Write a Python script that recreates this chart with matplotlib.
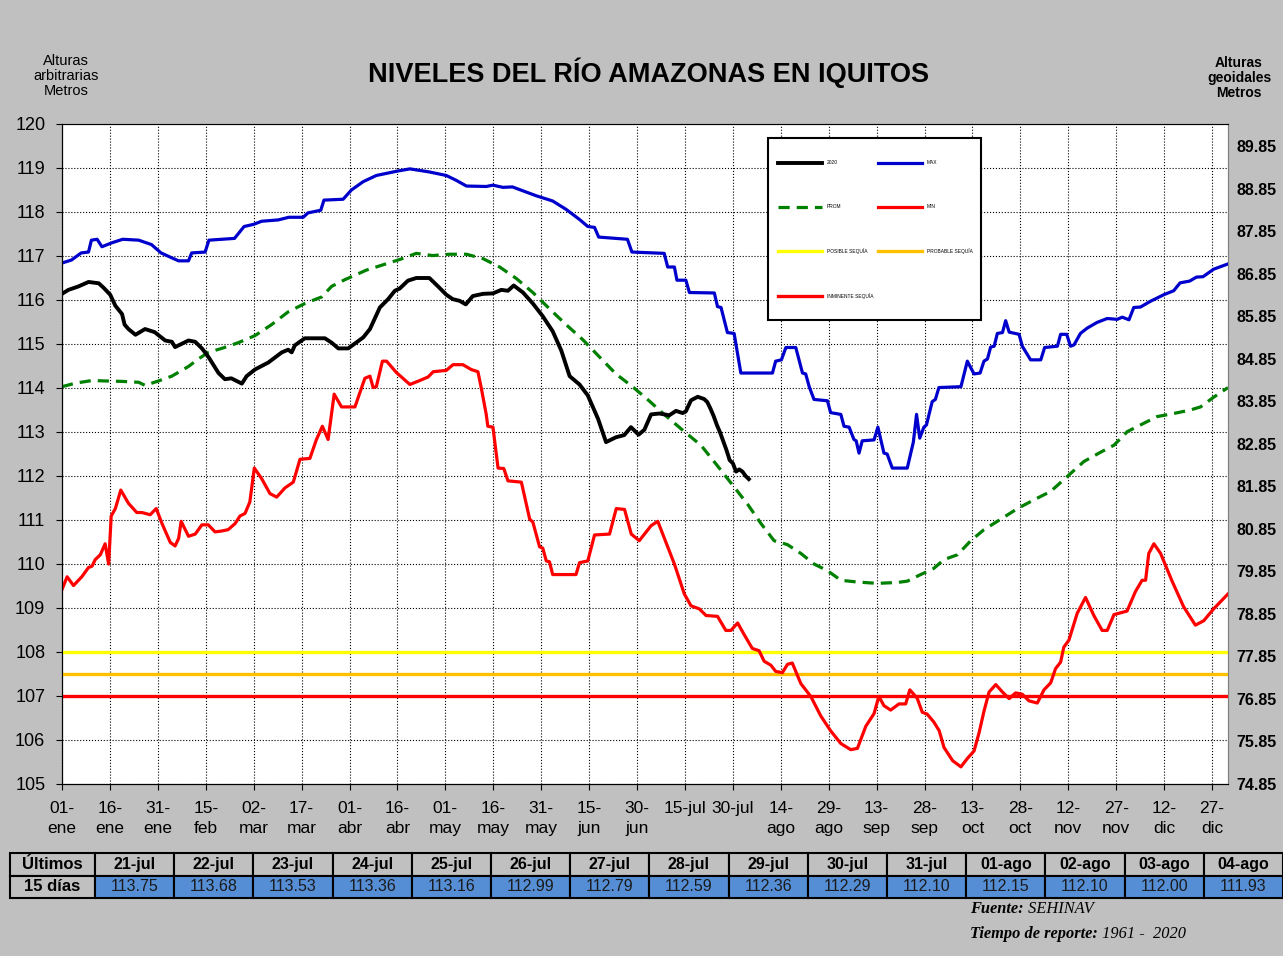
import matplotlib
matplotlib.use("Agg")
import matplotlib.pyplot as plt
from matplotlib.patches import Rectangle
import numpy as np

plt.rcParams['font.family'] = ['Liberation Sans', 'DejaVu Sans']

# ---- data (day of year, level in m) ----
max_days = [1, 4, 7, 9.3, 10.2, 12, 13.5, 16.6, 20, 25, 29, 32, 35, 37.5, 40.6, 41.6, 45.8, 47, 55, 58,
            61, 63.5, 68.7, 72, 76.5, 78, 82, 83, 89, 91.6, 95.3, 99.4, 106, 109.9, 116, 121.3, 124.4, 127.6,
            133.8, 135.9, 139, 142, 145.3, 149.4, 154.6, 158.8, 163, 165.6, 167.7, 169, 178, 179.4, 189.5,
            190.6, 192.7, 193.5, 196.3, 197.4, 205.2, 206.2, 207.3, 209.3, 211.4, 213.5, 223.4, 224.4, 226.2,
            227.6, 230.7, 232.8, 233.8, 234.9, 236.4, 240.6, 241.6, 244.8, 245.8, 247.4, 248.9, 249.6, 250.5,
            251.5, 255.2, 256.4, 258.3, 259.3, 260.9, 265.6, 267.5, 268.5, 269.5, 270.8, 271.6, 273.4, 274.4,
            275.5, 282.4, 284.4, 286.5, 288.4, 289.6, 290.7, 291.7, 292.8, 293.8, 295.4, 296.4, 297.5, 300.6,
            301.6, 304.2, 307.4, 308.6, 312.6, 313.6, 315.5, 316.7, 317.8, 319.8, 321.9, 325, 328.2, 331.3,
            332.9, 335, 336.5, 338.6, 341.7, 345.9, 349, 351, 354, 356.1, 358.2, 361.5, 366]
max_vals = [116.84, 116.91, 117.07, 117.09, 117.36, 117.38, 117.21, 117.30, 117.38, 117.36, 117.26, 117.07,
            116.97, 116.89, 116.89, 117.07, 117.09, 117.36, 117.40, 117.67, 117.72, 117.79, 117.82, 117.88,
            117.88, 117.98, 118.04, 118.27, 118.29, 118.50, 118.69, 118.83, 118.93, 118.98, 118.91, 118.83,
            118.72, 118.59, 118.58, 118.61, 118.56, 118.57, 118.48, 118.37, 118.25, 118.06, 117.83, 117.67,
            117.65, 117.43, 117.38, 117.09, 117.06, 116.75, 116.75, 116.45, 116.45, 116.17, 116.16, 115.85,
            115.83, 115.26, 115.24, 114.34, 114.34, 114.61, 114.64, 114.92, 114.92, 114.34, 114.32, 114.03,
            113.74, 113.71, 113.44, 113.40, 113.13, 113.11, 112.83, 112.80, 112.52, 112.80, 112.82, 113.11,
            112.52, 112.50, 112.18, 112.18, 112.77, 113.40, 112.86, 113.11, 113.16, 113.69, 113.74, 114.01,
            114.03, 114.61, 114.32, 114.34, 114.61, 114.66, 114.93, 114.95, 115.24, 115.26, 115.53, 115.27,
            115.22, 114.95, 114.64, 114.64, 114.92, 114.95, 115.22, 115.22, 114.95, 114.98, 115.24, 115.36,
            115.49, 115.58, 115.56, 115.61, 115.55, 115.83, 115.84, 115.97, 116.12, 116.21, 116.39, 116.43,
            116.52, 116.53, 116.70, 116.82]

y2020_days = [1, 3, 6.2, 9.3, 12.5, 14, 16.1, 17.7, 19.8, 20.6, 21.8, 24, 27, 30, 33.3, 35.4, 36.4, 40.6,
              42.7, 44.8, 46.8, 50, 52, 54, 57.3, 58.8, 61.4, 65.6, 69.8, 71.8, 72.9, 73.9, 77, 83.3, 85.4,
              87.5, 90.6, 95.3, 97.4, 100.5, 103.1, 105.2, 106.7, 109.3, 111.9, 116, 118.7, 121.3, 123.3,
              125.5, 127.4, 129.6, 132.8, 135.9, 138.5, 140.6, 142.4, 145.3, 148.4, 151.5, 154.6, 157.3,
              159.9, 163, 165.6, 168.8, 171.3, 174.4, 177, 179.1, 181.5, 183.3, 185.4, 188, 191.1, 193.2,
              195.3, 196.3, 197.9, 200]
y2020_vals = [116.14, 116.23, 116.31, 116.41, 116.38, 116.28, 116.12, 115.87, 115.68, 115.44, 115.34, 115.21,
              115.34, 115.27, 115.08, 115.05, 114.93, 115.08, 115.05, 114.90, 114.71, 114.34, 114.20, 114.22,
              114.10, 114.27, 114.42, 114.58, 114.81, 114.87, 114.81, 114.97, 115.13, 115.13, 115.03, 114.90,
              114.90, 115.15, 115.34, 115.83, 116.02, 116.21, 116.26, 116.44, 116.50, 116.50, 116.31, 116.12,
              116.02, 115.98, 115.90, 116.09, 116.14, 116.15, 116.23, 116.21, 116.33, 116.17, 115.92, 115.63,
              115.29, 114.85, 114.27, 114.08, 113.83, 113.30, 112.77, 112.88, 112.93, 113.11, 112.94, 113.05,
              113.40, 113.42, 113.38, 113.48, 113.43, 113.47, 113.72, 113.80]

# last 15 days table (21-jul = day 202 ... 04-ago = day 216)
last_dates = ['21-jul', '22-jul', '23-jul', '24-jul', '25-jul', '26-jul', '27-jul', '28-jul',
              '29-jul', '30-jul', '31-jul', '01-ago', '02-ago', '03-ago', '04-ago']
last_vals = [113.75, 113.68, 113.53, 113.36, 113.16, 112.99, 112.79, 112.59,
             112.36, 112.29, 112.10, 112.15, 112.10, 112.00, 111.93]
last_days = list(range(202, 217))

prom_days = [1, 5.2, 10.4, 14.5, 19.8, 25, 27, 31.2, 35.4, 40.6, 43.7, 46.8, 51, 56.2, 61.4, 66.6, 71.8, 77,
             82.3, 85.4, 89.5, 96.3, 101.5, 106.7, 111.9, 117, 122.3, 127.6, 132.8, 138, 143.2, 148.4, 153.6,
             158.8, 164, 169.2, 174.4, 179.6, 184.3, 189.5, 195.8, 201, 206.2, 211.4, 215.6, 219.8, 223.9,
             228.1, 232.3, 236.4, 240.6, 244.8, 250, 256.2, 262.5, 265.6, 269.8, 273.9, 277.1, 281.3, 285.5,
             289.6, 294.9, 300.1, 305.3, 310.5, 315.7, 320.9, 326.1, 330.3, 334.5, 338.6, 343.8, 349, 354.2,
             357.4, 361.5, 366]
prom_vals = [114.03, 114.11, 114.17, 114.16, 114.15, 114.13, 114.06, 114.16, 114.27, 114.49, 114.66, 114.81,
             114.90, 115.03, 115.19, 115.44, 115.73, 115.92, 116.07, 116.31, 116.46, 116.68, 116.80, 116.92,
             117.06, 117.01, 117.04, 117.04, 116.94, 116.75, 116.49, 116.17, 115.80, 115.44, 115.10, 114.71,
             114.32, 114.03, 113.74, 113.40, 113.01, 112.70, 112.23, 111.75, 111.36, 110.92, 110.53, 110.44,
             110.24, 110.00, 109.85, 109.63, 109.59, 109.56, 109.58, 109.61, 109.76, 109.90, 110.10, 110.21,
             110.53, 110.78, 111.02, 111.26, 111.46, 111.65, 111.99, 112.33, 112.54, 112.70, 113.01, 113.16,
             113.35, 113.42, 113.50, 113.57, 113.79, 114.01]

min_days = [1, 2.6, 4.6, 7.2, 9.3, 10.4, 11.4, 13, 14.5, 15.6, 16.4, 17.7, 19.4, 21.8, 24.4, 26, 28.6, 30.5,
            32.3, 34.9, 36.4, 37.5, 38.3, 40.6, 42.7, 44.8, 46.8, 48.9, 51, 53, 55.2, 56.7, 58.3, 59.8, 61.2,
            63.5, 66.1, 68.2, 70.8, 73.4, 75.5, 78.6, 80.6, 82.5, 84.3, 86.2, 88.5, 92.7, 95.8, 97.4, 98.4,
            99.4, 101.3, 102.6, 105.7, 109.9, 113, 115.6, 117.2, 121.3, 123.4, 126.5, 129.1, 131.2, 132.3,
            133.8, 134.3, 135.9, 137.5, 139.3, 140.6, 144.8, 147.4, 148.4, 150.5, 151.5, 152.6, 153.6, 154.6,
            161.9, 163, 165.6, 167.7, 172.4, 174.5, 177.1, 179.2, 181.7, 185.4, 187.5, 190.6, 192.7, 195.8,
            197.9, 200.5, 202.6, 206.2, 208.8, 210.4, 212.5, 214.5, 217.1, 219.2, 220.8, 222.9, 224.4, 226.5,
            228.1, 229.6, 232.3, 235.4, 238.5, 241.6, 244.8, 247.9, 250, 252.6, 255.2, 256.7, 258.3, 260.4,
            263, 265.1, 266.4, 268.7, 270.3, 271.8, 273.9, 275.6, 277.1, 279.8, 282.4, 284.4, 286.5, 288.1,
            289.6, 291.2, 293.3, 295.4, 297.5, 299.5, 301.6, 303.7, 306.3, 308.4, 310.5, 312, 313.6, 314.6,
            316.2, 318.8, 321.4, 324, 326.6, 328.2, 330.3, 334.4, 337, 339.1, 340.2, 341.2, 342.8, 344.9,
            348.5, 352.1, 355.8, 358.4, 361.5, 366]
min_vals = [109.42, 109.71, 109.51, 109.71, 109.92, 109.95, 110.10, 110.21, 110.46, 110.00, 111.09, 111.26,
            111.68, 111.38, 111.17, 111.17, 111.12, 111.26, 110.92, 110.49, 110.41, 110.58, 110.97, 110.63,
            110.68, 110.89, 110.89, 110.73, 110.75, 110.78, 110.92, 111.09, 111.15, 111.41, 112.18, 111.94,
            111.60, 111.52, 111.73, 111.86, 112.38, 112.40, 112.82, 113.13, 112.83, 113.86, 113.57, 113.57,
            114.22, 114.27, 114.01, 114.03, 114.61, 114.61, 114.35, 114.08, 114.17, 114.25, 114.37, 114.40,
            114.53, 114.53, 114.42, 114.37, 113.98, 113.40, 113.13, 113.11, 112.18, 112.17, 111.89, 111.86,
            111.02, 110.95, 110.39, 110.36, 110.07, 110.05, 109.76, 109.76, 110.03, 110.07, 110.66, 110.68,
            111.26, 111.24, 110.68, 110.53, 110.87, 110.97, 110.39, 110.00, 109.32, 109.05, 108.98, 108.83,
            108.81, 108.49, 108.49, 108.66, 108.40, 108.08, 108.03, 107.79, 107.70, 107.56, 107.53, 107.72,
            107.75, 107.28, 106.99, 106.55, 106.21, 105.92, 105.78, 105.81, 106.31, 106.60, 106.99, 106.78,
            106.68, 106.82, 106.82, 107.14, 106.95, 106.63, 106.59, 106.41, 106.21, 105.83, 105.53, 105.39,
            105.58, 105.75, 106.17, 106.65, 107.09, 107.26, 107.09, 106.94, 107.07, 107.04, 106.89, 106.84,
            107.14, 107.30, 107.62, 107.77, 108.11, 108.27, 108.88, 109.24, 108.83, 108.49, 108.49, 108.85,
            108.93, 109.37, 109.63, 109.63, 110.24, 110.46, 110.24, 109.61, 109.03, 108.61, 108.71, 108.98,
            109.32]

posible_sequia = 108.0
probable_sequia = 107.5
inminente_sequia = 107.0

tick_days = [1, 16, 31, 46, 61, 76, 91, 106, 121, 136, 151, 166, 181, 196, 211,
             226, 241, 256, 271, 286, 301, 316, 331, 346, 361]
tick_labels = ['01-\nene', '16-\nene', '31-\nene', '15-\nfeb', '02-\nmar', '17-\nmar', '01-\nabr',
               '16-\nabr', '01-\nmay', '16-\nmay', '31-\nmay', '15-\njun', '30-\njun', '15-jul', '30-jul',
               '14-\nago', '29-\nago', '13-\nsep', '28-\nsep', '13-\noct', '28-\noct', '12-\nnov',
               '27-\nnov', '12-\ndic', '27-\ndic']

W, H = 1283, 956
fig = plt.figure(figsize=(W / 100, H / 100), dpi=100, facecolor='#c0c0c0')
ax = fig.add_axes([62 / W, 1 - 784 / H, 1166 / W, 660 / H])
ax.set_facecolor('white')

ax.plot(y2020_days + last_days, y2020_vals + last_vals, color='black', lw=2.8, label='2020', zorder=5)
ax.plot(prom_days, prom_vals, color='#008000', lw=2.3, dashes=(3.5, 2.2), label='PROM', zorder=4)
ax.axhline(posible_sequia, color='#ffff00', lw=2.4, label='POSIBLE SEQUÍA', zorder=3)
ax.axhline(inminente_sequia, color='#ff0000', lw=2.4, label='INMINENTE SEQUÍA', zorder=3)
ax.plot(max_days, max_vals, color='#0000cc', lw=2.3, label='MAX', zorder=4)
ax.plot(min_days, min_vals, color='#ff0000', lw=2.3, label='MIN', zorder=4)
ax.axhline(probable_sequia, color='#ffc000', lw=2.4, label='PROBABLE SEQUÍA', zorder=3)

ax.set_xlim(1, 366)
ax.set_ylim(105, 120)
ax.set_yticks(np.arange(105, 121, 1))
ax.set_xticks(tick_days)
ax.set_xticklabels(tick_labels, fontsize=12.5, linespacing=1.45)
ax.tick_params(axis='y', labelsize=13, length=4, pad=8)
ax.tick_params(axis='x', length=4, pad=8)
ax.grid(True, color='black', linestyle=':', linewidth=0.8)
for s in ['top', 'right']:
    ax.spines[s].set_color('#808080')

ax2 = ax.twinx()
ax2.set_ylim(74.85, 74.85 + 660 / 42.53)
r_ticks = np.arange(74.85, 89.86, 1.0)
ax2.set_yticks(r_ticks)
ax2.set_yticklabels(['%.2f' % v for v in r_ticks], fontweight='bold', fontsize=11.5)
ax2.tick_params(axis='y', length=0, pad=6)
ax2.spines['right'].set_color('#808080')

# legend box drawn by hand, entries placed inside it
ax2.add_patch(Rectangle((0.6055, 0.703), 0.1825, 0.276, transform=ax.transAxes, facecolor='white',
                        edgecolor='black', lw=1.5, zorder=10))
handles, labels = ax.get_legend_handles_labels()
leg = ax2.legend(handles, labels, loc='upper left', bbox_to_anchor=(0.6123, 0.703, 0.1707, 0.2455),
                 mode='expand', ncol=2, fontsize=3.5, handlelength=9, handletextpad=1,
                 labelspacing=8, borderpad=0, frameon=False)
leg.set_zorder(11)

fig.text(648 / W, 1 - 73 / H, 'NIVELES DEL RÍO AMAZONAS EN IQUITOS', ha='center', va='center',
         fontsize=19.5, fontweight='bold')
fig.text(66 / W, 1 - 76 / H, 'Alturas\narbitrarias\nMetros', ha='center', va='center',
         fontsize=10.5, linespacing=1.1)
fig.text(1239 / W, 1 - 78 / H, 'Alturas\ngeoidales\nMetros', ha='center', va='center',
         fontsize=10, fontweight='bold', linespacing=1.1)

# table of last 15 days
tax = fig.add_axes([10 / W, 1 - 898 / H, 1273 / W, 45 / H])
tax.axis('off')
cells = [['Últimos'] + last_dates, ['15 días'] + ['%.2f' % v for v in last_vals]]
col_w = [85] + [79.2] * 15
tbl = tax.table(cellText=cells, colWidths=[c / sum(col_w) for c in col_w], bbox=[0, 0, 1, 1],
                cellLoc='center')
tbl.auto_set_font_size(False)
for (r, c), cell in tbl.get_celld().items():
    cell.set_linewidth(1.5)
    cell.set_edgecolor('black')
    if c == 0:
        cell.set_facecolor('#c0c0c0')
        cell.get_text().set_fontweight('bold')
        cell.get_text().set_fontsize(12)
    elif r == 0:
        cell.set_facecolor('#c0c0c0')
        cell.get_text().set_fontweight('bold')
        cell.get_text().set_fontsize(11.5)
    else:
        cell.set_facecolor('#558ed5')
        cell.get_text().set_fontsize(11.5)
        cell.get_text().set_color('#1a1a1a')

t1 = fig.text(970 / W, 1 - 909 / H, 'Fuente:', fontfamily='Liberation Serif', style='italic',
              fontweight='bold', fontsize=11.8, va='center')
t2 = fig.text(970 / W, 1 - 934 / H, 'Tiempo de reporte:', fontfamily='Liberation Serif', style='italic',
              fontweight='bold', fontsize=11.8, va='center')
ax.annotate(' SEHINAV', xy=(1, 0.5), xycoords=t1, va='center', fontfamily='Liberation Serif',
            style='italic', fontsize=11.8, annotation_clip=False)
ax.annotate(' 1961 -  2020', xy=(1, 0.5), xycoords=t2, va='center', fontfamily='Liberation Serif',
            style='italic', fontsize=11.8, annotation_clip=False)

fig.savefig('out.png', dpi=100, facecolor=fig.get_facecolor())
